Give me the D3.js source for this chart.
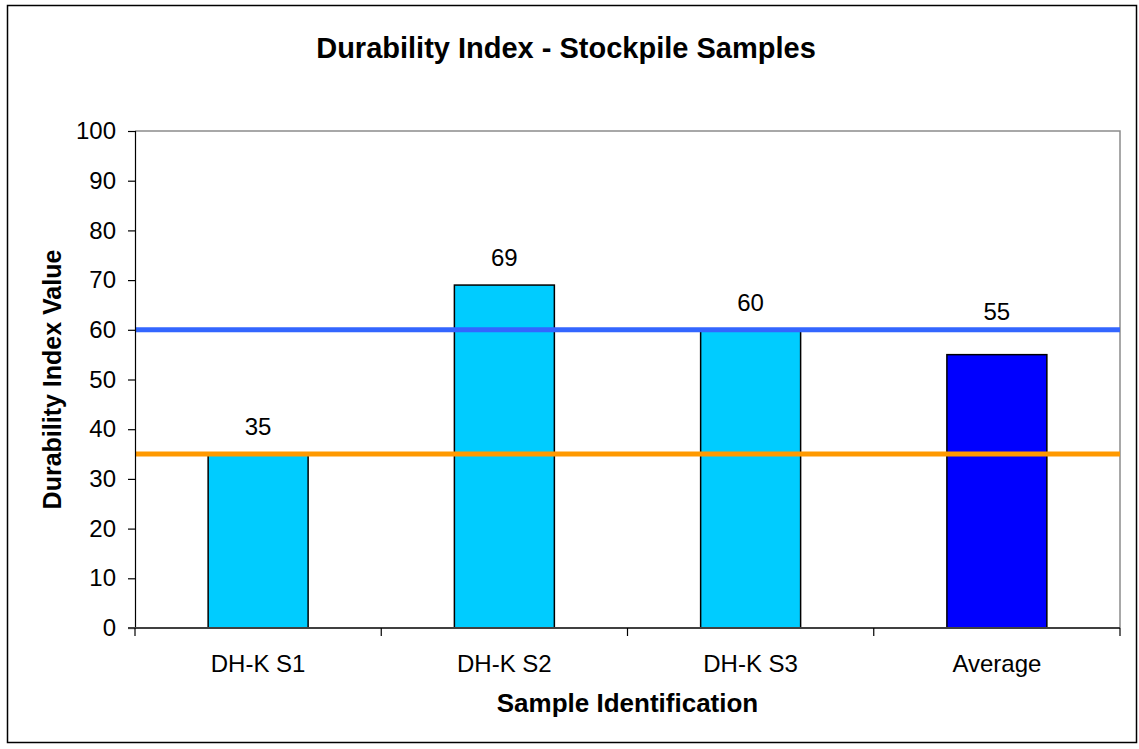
<!DOCTYPE html>
<html>
<head>
<meta charset="utf-8">
<script src="https://cdn.jsdelivr.net/npm/d3@7"></script>
<style>
  html, body { margin: 0; padding: 0; background: #ffffff; }
  svg text { font-family: "Liberation Sans", Arial, sans-serif; fill: #000; }
</style>
</head>
<body>
<svg id="chart" width="1139" height="749"></svg>
<script>
// Durability index per stockpile sample
const categories = ["DH-K S1", "DH-K S2", "DH-K S3", "Average"];
const values = [35, 69, 60, 55];
const barColors = ["#00CCFF", "#00CCFF", "#00CCFF", "#0000FF"];
// Horizontal reference limits
const limitValues = [60, 35];
const limitColors = ["#3366FF", "#FF9900"];
const yTicks = [0, 10, 20, 30, 40, 50, 60, 70, 80, 90, 100];

const chartTitle = "Durability Index - Stockpile Samples";
const xTitle = "Sample Identification";
const yTitle = "Durability Index Value";

const svg = d3.select("#chart");
const plot = { left: 135, right: 1120, top: 131, bottom: 628 };

// Chart frame
svg.append("rect")
  .attr("x", 7.5).attr("y", 5.5)
  .attr("width", 1129).attr("height", 737)
  .attr("fill", "#fff").attr("stroke", "#000").attr("stroke-width", 1.5);

const x = d3.scaleBand().domain(categories).range([plot.left, plot.right]).padding(0);
const y = d3.scaleLinear().domain([0, 100]).range([plot.bottom, plot.top]);
const barWidth = x.bandwidth() * 0.406;

// Plot area border (top and right)
svg.append("path")
  .attr("d", `M${plot.left},${plot.top}H${plot.right}V${plot.bottom}`)
  .attr("fill", "none").attr("stroke", "#8c8c8c").attr("stroke-width", 1.5);

// Bars
svg.append("g").selectAll("rect").data(values).join("rect")
  .attr("x", (d, i) => x(categories[i]) + (x.bandwidth() - barWidth) / 2)
  .attr("y", d => y(d))
  .attr("width", barWidth)
  .attr("height", d => y(0) - y(d))
  .attr("fill", (d, i) => barColors[i])
  .attr("stroke", "#000").attr("stroke-width", 1.5);

// Value labels sit 19px above the bar; a label that would cross a
// reference line is lifted to sit just above that line instead.
const labelSize = 24;
function labelBaseline(d) {
  let base = y(d) - 19;
  limitValues.forEach(v => {
    const ly = y(v);
    if (base + 3 >= ly - 3 && base - labelSize * 0.75 <= ly + 3) base = ly - 10;
  });
  return base;
}
svg.append("g").selectAll("text").data(values).join("text")
  .attr("x", (d, i) => x(categories[i]) + x.bandwidth() / 2)
  .attr("y", d => labelBaseline(d))
  .attr("text-anchor", "middle")
  .style("font-size", labelSize + "px")
  .text(d => d);

// Reference lines
svg.append("g").selectAll("line").data(limitValues).join("line")
  .attr("x1", plot.left).attr("x2", plot.right)
  .attr("y1", d => y(d)).attr("y2", d => y(d))
  .attr("stroke", (d, i) => limitColors[i]).attr("stroke-width", 5);

// Y axis
const yAxis = svg.append("g")
  .attr("transform", `translate(${plot.left},0)`)
  .call(d3.axisLeft(y).tickValues(yTicks).tickSize(7).tickPadding(12));
yAxis.select(".domain").attr("stroke", "#000").attr("stroke-width", 1.2);
yAxis.selectAll(".tick line").attr("stroke", "#000").attr("stroke-width", 1.2);
yAxis.selectAll(".tick text")
  .style("font-size", "24px")
  .style("font-family", "'Liberation Sans', Arial, sans-serif")
  .attr("fill", "#000");

// X axis: tick marks on category boundaries
const boundaries = categories.map(c => x(c)).concat([plot.right]);
const xAxis = svg.append("g").attr("transform", `translate(0,${plot.bottom})`);
xAxis.append("line")
  .attr("x1", plot.left - 7).attr("x2", plot.right)
  .attr("stroke", "#404040").attr("stroke-width", 2);
xAxis.selectAll("line.tick").data(boundaries).join("line")
  .attr("class", "tick")
  .attr("x1", d => d).attr("x2", d => d)
  .attr("y1", 0).attr("y2", 8)
  .attr("stroke", "#000").attr("stroke-width", 1.2);
xAxis.selectAll("text").data(categories).join("text")
  .attr("x", d => x(d) + x.bandwidth() / 2)
  .attr("y", 44)
  .attr("text-anchor", "middle")
  .style("font-size", "24px")
  .text(d => d);

// Titles
svg.append("text")
  .attr("x", 566).attr("y", 58)
  .attr("text-anchor", "middle")
  .style("font-size", "29px").style("font-weight", "bold")
  .text(chartTitle);

svg.append("text")
  .attr("x", (plot.left + plot.right) / 2).attr("y", 712)
  .attr("text-anchor", "middle")
  .style("font-size", "26px").style("font-weight", "bold")
  .text(xTitle);

svg.append("text")
  .attr("transform", `translate(61,${(plot.top + plot.bottom) / 2}) rotate(-90)`)
  .attr("text-anchor", "middle")
  .style("font-size", "25px").style("font-weight", "bold")
  .text(yTitle);
</script>
</body>
</html>
